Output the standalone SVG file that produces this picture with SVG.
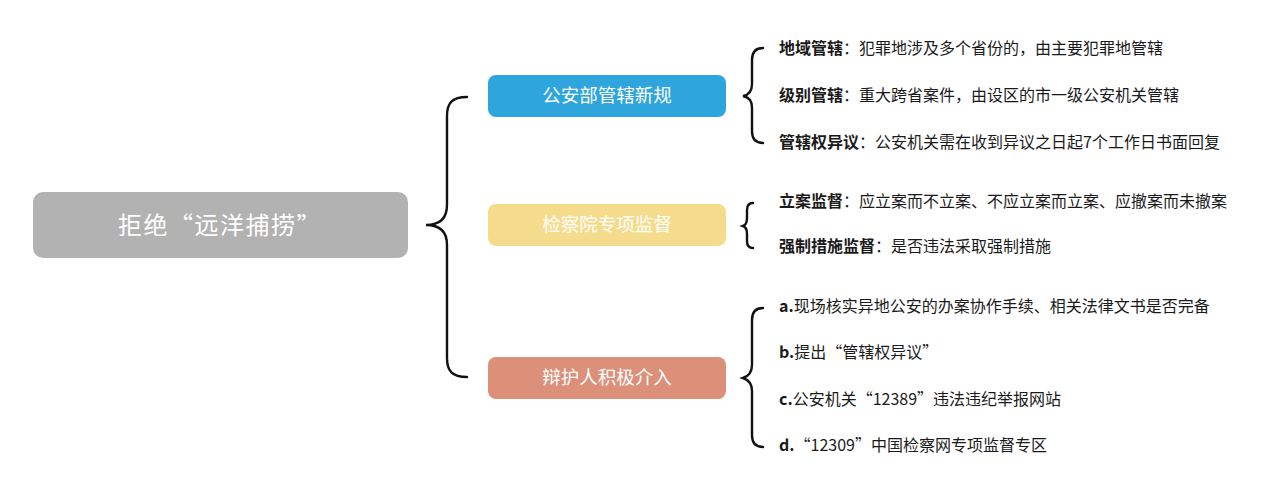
<svg xmlns="http://www.w3.org/2000/svg" width="1272" height="497" viewBox="0 0 1272 497">
<style>
text{font-family:"Noto Sans CJK SC","Noto Sans",sans-serif;}
.box{stroke:none;}
.btxt{fill:#ffffff;font-size:18.5px;text-anchor:middle;}
.leaf{fill:#1a1a1a;font-size:16px;}
.b{font-weight:bold;}
.brace{fill:none;stroke:#111111;stroke-width:2.4;stroke-linecap:round;}
</style>
<rect width="1272" height="497" fill="#ffffff"/>
<g id="connectors">
<path class="brace" d="M467,97 C452,97 447,103 447,116 L447,205 C447,218 440,225 426,225 C440,225 447,232 447,245 L447,358 C447,371 452,377 467,377"/>
<path class="brace" d="M763,48 C756,48 752,52 752,60 L752,84 C752,91 749,95 743,96 C749,97 752,101 752,108 L752,131 C752,139 756,143 763,143"/>
<path class="brace" d="M753,203 C749,203 747,206 747,210 L747,218 C747,222 746,225 743,226 C746,227 747,230 747,234 L747,241 C747,245 749,248 753,248"/>
<path class="brace" d="M763,308 C756,308 752,312 752,320 L752,365 C752,372 749,376 743,378 C749,380 752,384 752,391 L752,435 C752,443 756,447 763,447"/>
</g>
<g id="root">
<rect class="box" x="33" y="192" width="375" height="66" rx="10" fill="#b2b2b2"/>
<text x="220" y="234" fill="#ffffff" font-size="24" letter-spacing="1.5" text-anchor="middle">拒绝“远洋捕捞”</text>
</g>
<g id="node-police">
<rect class="box" x="488" y="75" width="238" height="42" rx="8" fill="#2ea5dc"/>
<text class="btxt" x="607" y="102">公安部管辖新规</text>
</g>
<g id="node-procuratorate">
<rect class="box" x="488" y="204" width="238" height="42" rx="8" fill="#f5dc8c"/>
<text class="btxt" x="607" y="231">检察院专项监督</text>
</g>
<g id="node-defender">
<rect class="box" x="488" y="357" width="238" height="42" rx="8" fill="#dc907a"/>
<text class="btxt" x="607" y="384">辩护人积极介入</text>
</g>
<g id="leaf-1"><text class="leaf" x="779" y="54"><tspan class="b">地域管辖</tspan>：犯罪地涉及多个省份的，由主要犯罪地管辖</text></g>
<g id="leaf-2"><text class="leaf" x="779" y="101"><tspan class="b">级别管辖</tspan>：重大跨省案件，由设区的市一级公安机关管辖</text></g>
<g id="leaf-3"><text class="leaf" x="779" y="148"><tspan class="b">管辖权异议</tspan>：公安机关需在收到异议之日起7个工作日书面回复</text></g>
<g id="leaf-4"><text class="leaf" x="779" y="207"><tspan class="b">立案监督</tspan>：应立案而不立案、不应立案而立案、应撤案而未撤案</text></g>
<g id="leaf-5"><text class="leaf" x="779" y="252"><tspan class="b">强制措施监督</tspan>：是否违法采取强制措施</text></g>
<g id="leaf-6"><text class="leaf" x="779" y="312"><tspan class="b">a.</tspan>现场核实异地公安的办案协作手续、相关法律文书是否完备</text></g>
<g id="leaf-7"><text class="leaf" x="779" y="358"><tspan class="b">b.</tspan>提出“管辖权异议”</text></g>
<g id="leaf-8"><text class="leaf" x="779" y="405"><tspan class="b">c.</tspan>公安机关“12389”违法违纪举报网站</text></g>
<g id="leaf-9"><text class="leaf" x="779" y="451"><tspan class="b">d.</tspan>“12309”中国检察网专项监督专区</text></g>
</svg>
